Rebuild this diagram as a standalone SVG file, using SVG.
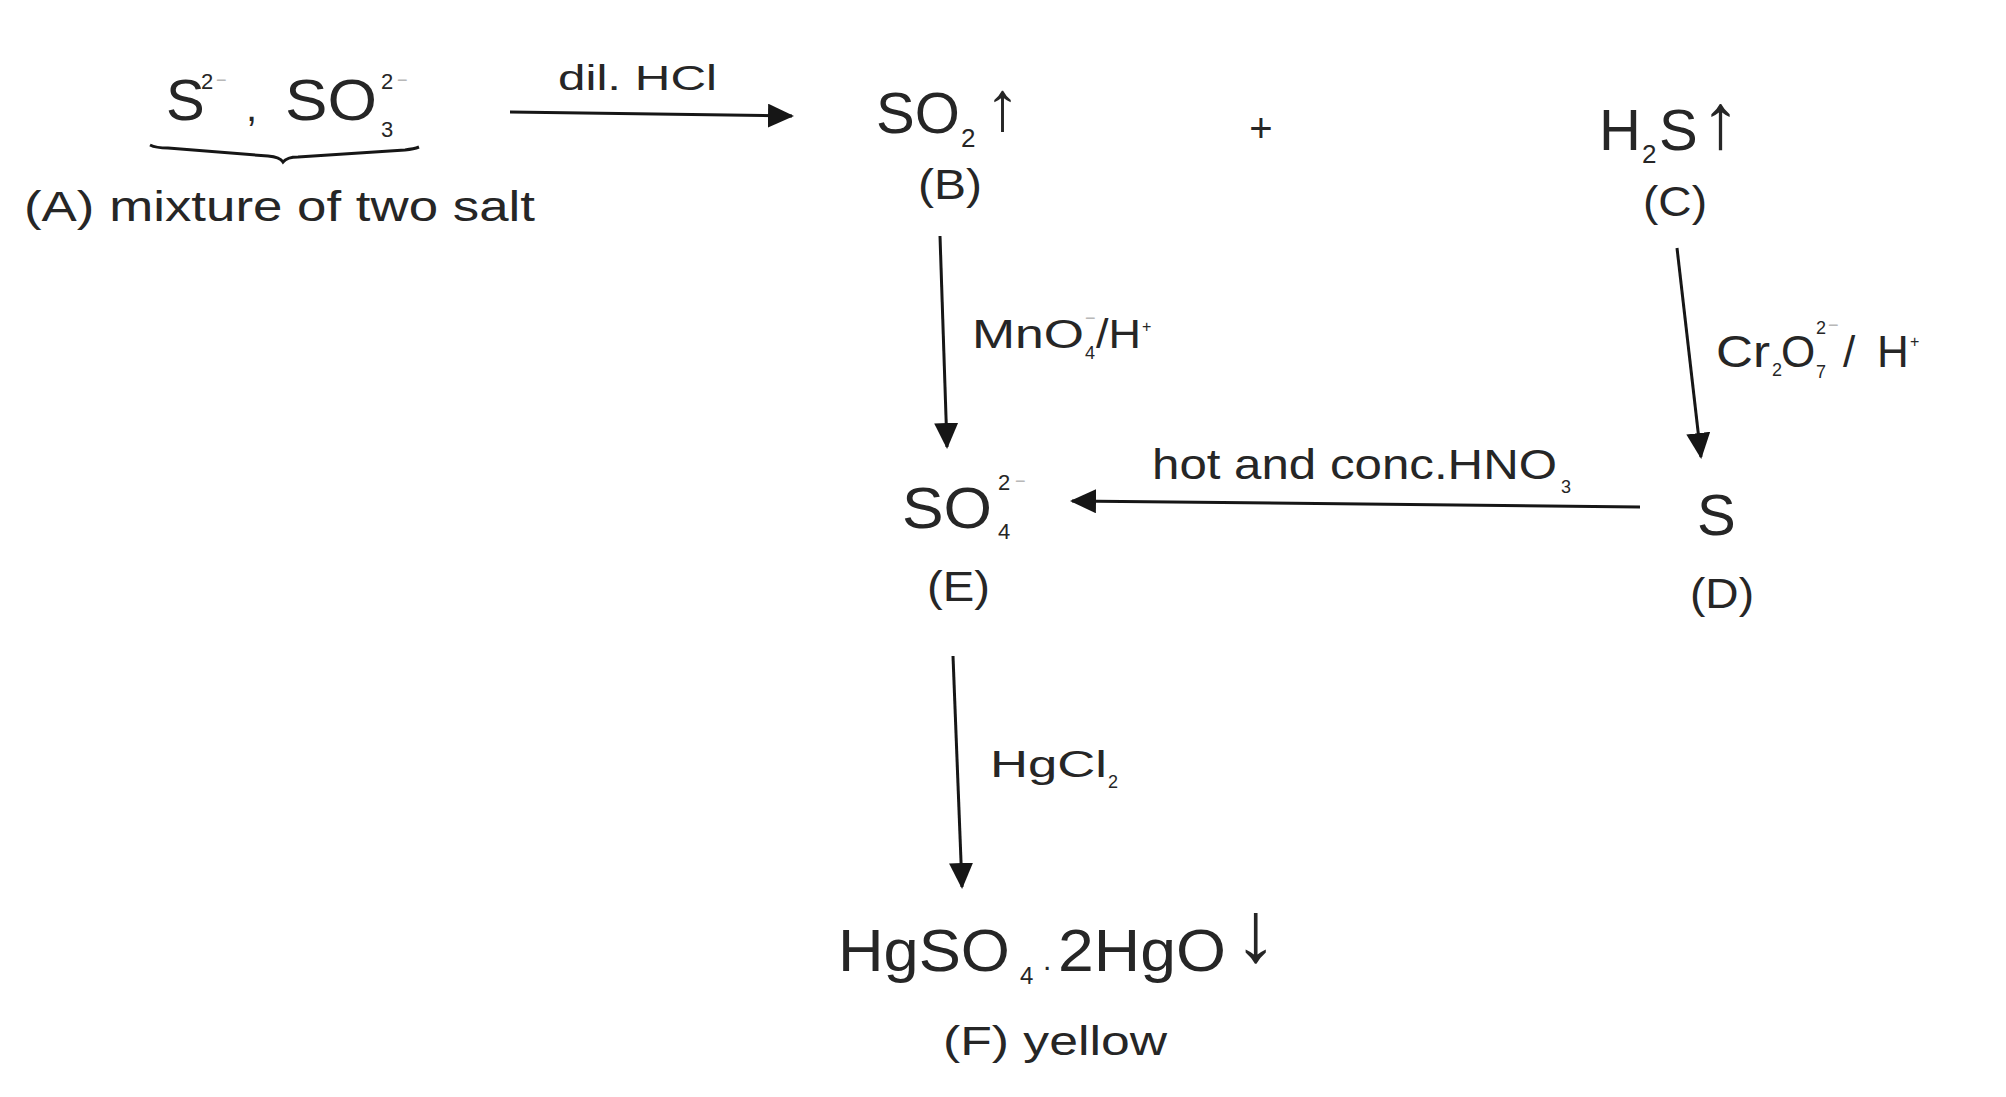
<svg xmlns="http://www.w3.org/2000/svg" width="2006" height="1097" viewBox="0 0 2006 1097">
<style>
text{font-family:"Liberation Sans",Arial,sans-serif;fill:#262626}
.big{font-size:58px}
.lab{font-size:43px}
.rx{font-size:38px}
.sub{font-size:22px}
.sm{font-size:18px}
.faint{fill:#b8b8b8}
.ln{stroke:#161616;stroke-width:3;fill:none}
</style>
<defs>
<marker id="ah" viewBox="0 0 26 24" refX="24" refY="12" markerWidth="26" markerHeight="24" markerUnits="userSpaceOnUse" orient="auto">
<path d="M0,0 L26,12 L0,24 Z" fill="#161616"/>
</marker>
</defs>
<rect width="2006" height="1097" fill="#ffffff"/>

<g id="nodeA">
<text class="big" x="166" y="120">S</text>
<text class="sub" x="201" y="89">2</text>
<text class="sm faint" x="216" y="86">−</text>
<text style="font-size:40px" x="246" y="121">,</text>
<text class="big" x="285" y="120" textLength="92" lengthAdjust="spacingAndGlyphs">SO</text>
<text class="sub" x="381" y="137">3</text>
<text class="sub" x="381" y="89">2</text>
<text class="sm faint" x="397" y="86">−</text>
<path class="ln" d="M150,145 Q156,148 168,148 L268,156 Q280,157 283,162 Q287,157 298,157 L405,150 Q414,149 419,147"/>
<text class="lab" x="24" y="221" style="font-size:42px" textLength="511" lengthAdjust="spacingAndGlyphs">(A) mixture of two salt</text>
</g>

<g id="nodeB">
<text class="big" x="876" y="133">SO</text>
<text style="font-size:26px" x="961" y="147">2</text>
<text style="font-size:70px" x="985" y="130">↑</text>
<text class="lab" x="918" y="199" textLength="64" lengthAdjust="spacingAndGlyphs">(B)</text>
</g>

<g id="plus">
<text style="font-size:40px" x="1261" y="142" text-anchor="middle">+</text>
</g>

<g id="nodeC">
<text class="big" x="1599" y="150">H</text>
<text style="font-size:26px" x="1642" y="163">2</text>
<text class="big" x="1659" y="150">S</text>
<text style="font-size:78px" x="1701" y="148">↑</text>
<text class="lab" x="1643" y="216" textLength="64" lengthAdjust="spacingAndGlyphs">(C)</text>
</g>

<g id="nodeD">
<text class="big" x="1697" y="535">S</text>
<text class="lab" x="1690" y="608" textLength="64" lengthAdjust="spacingAndGlyphs">(D)</text>
</g>

<g id="nodeE">
<text class="big" x="902" y="528" textLength="90" lengthAdjust="spacingAndGlyphs">SO</text>
<text class="sub" x="998" y="539">4</text>
<text class="sub" x="998" y="490">2</text>
<text class="sm faint" x="1015" y="487">−</text>
<text class="lab" x="927" y="601" textLength="63" lengthAdjust="spacingAndGlyphs">(E)</text>
</g>

<g id="nodeF">
<text style="font-size:60px" x="838" y="971" textLength="172" lengthAdjust="spacingAndGlyphs">HgSO</text>
<text style="font-size:24px" x="1020" y="984">4</text>
<text style="font-size:30px" fill="#888" x="1043" y="970">.</text>
<text style="font-size:60px" x="1058" y="971" textLength="168" lengthAdjust="spacingAndGlyphs">2HgO</text>
<text style="font-size:86px" x="1234" y="961">↓</text>
<text class="rx" style="font-size:40px" x="943" y="1055" textLength="224" lengthAdjust="spacingAndGlyphs">(F) yellow</text>
</g>

<g id="connectors">
<g id="e-A-B">
<line class="ln" x1="510" y1="112" x2="792" y2="116" marker-end="url(#ah)"/>
<text class="rx" style="font-size:35px" x="558" y="90" textLength="159" lengthAdjust="spacingAndGlyphs">dil. HCl</text>
</g>
<g id="e-B-E">
<line class="ln" x1="940" y1="236" x2="947" y2="447" marker-end="url(#ah)"/>
<text class="rx" style="font-size:40px" x="972" y="348" textLength="112" lengthAdjust="spacingAndGlyphs">MnO</text>
<text class="sm" x="1085" y="359">4</text>
<text class="sm faint" x="1085" y="324">−</text>
<text class="rx" style="font-size:40px" x="1096" y="348" textLength="45" lengthAdjust="spacingAndGlyphs">/H</text>
<text style="font-size:16px" fill="#888" x="1142" y="332">+</text>
</g>
<g id="e-C-D">
<line class="ln" x1="1677" y1="248" x2="1701" y2="457" marker-end="url(#ah)"/>
<text style="font-size:44px" x="1716" y="367" textLength="54" lengthAdjust="spacingAndGlyphs">Cr</text>
<text class="sm" x="1772" y="376">2</text>
<text style="font-size:44px" x="1781" y="367">O</text>
<text class="sm" x="1816" y="378">7</text>
<text class="sm" x="1816" y="334">2</text>
<text class="sm faint" x="1828" y="331">−</text>
<text style="font-size:44px" x="1843" y="367">/</text>
<text style="font-size:44px" x="1877" y="367">H</text>
<text style="font-size:16px" fill="#888" x="1910" y="347">+</text>
</g>
<g id="e-D-E">
<line class="ln" x1="1640" y1="507" x2="1072" y2="501" marker-end="url(#ah)"/>
<text class="rx" style="font-size:43px" x="1152" y="479" textLength="405" lengthAdjust="spacingAndGlyphs">hot and conc.HNO</text>
<text class="sm" x="1561" y="493">3</text>
</g>
<g id="e-E-F">
<line class="ln" x1="953" y1="656" x2="962" y2="887" marker-end="url(#ah)"/>
<text class="rx" style="font-size:37px" x="990" y="777" textLength="117" lengthAdjust="spacingAndGlyphs">HgCl</text>
<text class="sm" x="1108" y="788">2</text>
</g>
</g>
</svg>
